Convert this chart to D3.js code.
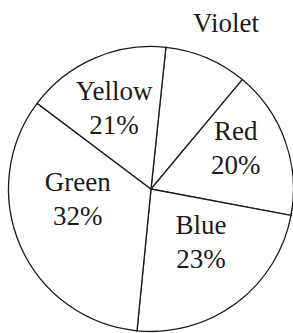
<!DOCTYPE html>
<html>
<head>
<meta charset="utf-8">
<script src="https://cdn.jsdelivr.net/npm/d3@7"></script>
</head>
<body style="margin:0">
<div id="chart"></div>
<script>
// slices in clockwise order, starting from the near-vertical line at the top
var categories = ["Violet", "Red", "Blue", "Green", "Yellow"];
// share of the circle as it is drawn (percent)
var drawnShare = [9.4, 16.9, 23.6, 33.7, 16.4];
// percentages printed in the labels (Violet has none)
var printedPct = [null, 20, 23, 32, 21];

var width = 293, height = 333;
var cx = 151, cy = 189, radius = 142.5;
var startDeg = 6;

// where each label block sits: [angle in degrees clockwise from 12 o'clock, distance from centre]
var labelPolar = [[24.5, 181], [64.4, 94], [136.7, 73], [262.3, 74], [335.5, 89]];

var data = categories.map(function(c, i) {
  return {name: c, share: drawnShare[i], pct: printedPct[i], pos: labelPolar[i]};
});

var svg = d3.select("#chart").append("svg")
  .attr("width", width)
  .attr("height", height);

var g = svg.append("g").attr("transform", `translate(${cx}, ${cy})`);

var toRad = function(d) { return d * Math.PI / 180; };

var pie = d3.pie()
  .sort(null)
  .value(function(d) { return d.share; })
  .startAngle(toRad(startDeg))
  .endAngle(toRad(startDeg + 360));

var arc = d3.arc().innerRadius(0).outerRadius(radius);

g.selectAll("path").data(pie(data)).enter()
  .append("path")
  .attr("fill", "#fff")
  .attr("stroke", "#1a1a1a")
  .attr("stroke-width", 1.3)
  .attr("d", arc);

// labels, one or two lines each
data.forEach(function(d) {
  var p = d3.pointRadial(toRad(d.pos[0]), d.pos[1]);
  var lines = d.pct == null ? [d.name] : [d.name, d.pct + "%"];
  var y0 = d.pct == null ? p[1] + 8 : p[1] - 8;
  lines.forEach(function(s, j) {
    g.append("text")
      .attr("font-family", "Liberation Serif")
      .attr("font-size", 27)
      .attr("fill", "#1a1a1a")
      .attr("text-anchor", "middle")
      .attr("x", p[0])
      .attr("y", y0 + j * 34)
      .text(s);
  });
});
</script>
</body>
</html>
